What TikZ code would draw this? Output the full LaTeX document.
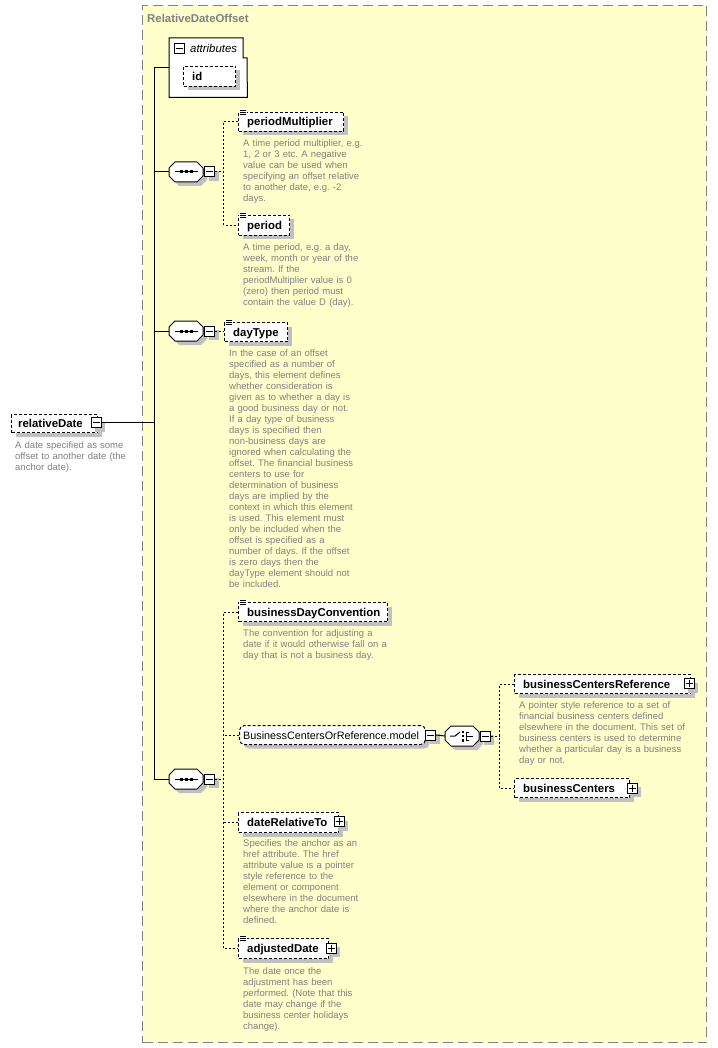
\documentclass[tikz,border=0pt]{standalone}
\usepackage{fontspec}
\setmainfont{Liberation Sans}
\usetikzlibrary{shadows,calc}
\frenchspacing
\definecolor{bg}{RGB}{255,255,204}
\definecolor{frame}{RGB}{128,128,128}
\definecolor{desc}{RGB}{128,128,128}
\definecolor{shad}{RGB}{192,192,192}
\newcommand{\octa}[3]{%
  \node[minimum width=34pt,minimum height=20pt,inner sep=0] (#1) at (#2,#3) {};
  \begin{scope}[shift={(#2,#3)}]
    \fill[shad,shift={(4,4)}] (-11,-10) -- (11,-10) -- (17,-4) -- (17,4) -- (11,10) -- (-11,10) -- (-17,4) -- (-17,-4) -- cycle;
    \draw[line width=1pt,fill=white] (-11,-10) -- (11,-10) -- (17,-4) -- (17,4) -- (11,10) -- (-11,10) -- (-17,4) -- (-17,-4) -- cycle;
  \end{scope}}
\newcommand{\seqicon}[1]{%
  \begin{scope}[shift={(#1.center)}]
    \draw[line width=1pt] (-11,0) -- (12,0);
    \fill (-6.5,-1.5) rectangle (-3.5,1.5);
    \fill (-1.5,-1.5) rectangle (1.5,1.5);
    \fill (3.5,-1.5) rectangle (6.5,1.5);
  \end{scope}}
\newcommand{\choiceicon}[1]{%
  \begin{scope}[shift={(#1.center)}]
    \draw[line width=1pt] (-12,0) -- (-7,0) -- (-2,-4);
    \fill (-0.5,-5.5) rectangle (2,-3);
    \fill (-0.5,-1.25) rectangle (2,1.25);
    \fill (-0.5,3) rectangle (2,5.5);
    \draw[line width=1pt] (7,-4) -- (4,-4) -- (4,4) -- (7,4);
    \draw[line width=1pt] (4,0) -- (11,0);
  \end{scope}}
\newcommand{\minusbox}[3]{%
  \node[pmbox] (#1) at (#2,#3) {};
  \draw[line width=1pt] ([xshift=-3.5pt]#1.center) -- ([xshift=3.5pt]#1.center);}
\newcommand{\plusbox}[3]{%
  \node[pmbox] (#1) at (#2,#3) {};
  \draw[line width=1pt] ([xshift=-3.5pt]#1.center) -- ([xshift=3.5pt]#1.center);
  \draw[line width=1pt] ([yshift=-3.5pt]#1.center) -- ([yshift=3.5pt]#1.center);}
\newcommand{\elicon}[1]{%
  \fill[white] ($(#1.north west)+(1,-2.5)$) rectangle ++(8,7);
  \draw[line width=0.8pt] ($(#1.north west)+(2,-1.5)$) -- ++(6,0);
  \draw[line width=0.8pt] ($(#1.north west)+(2,0.5)$) -- ++(6,0);
  \draw[line width=0.8pt] ($(#1.north west)+(2,2.5)$) -- ++(6,0);}
\begin{document}
\begin{tikzpicture}[x=1pt,y=-1pt,
  shd/.style={drop shadow={shadow xshift=4pt,shadow yshift=-4pt,fill=shad,opacity=1}},
  elem/.style={draw,dash pattern=on 3pt off 2pt,fill=white,line width=1pt,shd,minimum height=19pt,inner sep=0,anchor=north west},
  modelbox/.style={elem,rounded corners=5pt},
  pmbox/.style={draw,fill=white,line width=1pt,minimum size=10pt,inner sep=0,shd},
  ename/.style={font={\fontsize{11.4}{13}\selectfont\bfseries},anchor=base west,inner sep=0},
  edesc/.style={font={\fontsize{9.5}{11}\selectfont},text=desc,anchor=base west,inner sep=0,text width=260pt,align=left},
  conn/.style={line width=1pt},
  dconn/.style={line width=1pt,dash pattern=on 2pt off 2pt}]
\useasboundingbox (0,0) rectangle (717,1048);
\fill[white] (0,0) rectangle (717,1048);
% group frame
\node[draw=frame,fill=bg,line width=1pt,dash pattern=on 10pt off 5pt,minimum width=564pt,minimum height=1037pt,inner sep=0,anchor=north west] (grp) at (142,5) {};
\node[font={\fontsize{11.4}{13}\selectfont\bfseries},text=frame,anchor=base west,inner sep=0] (grpt) at (147,23) {RelativeDateOffset};
% attributes
\node[minimum width=78pt,minimum height=59pt,inner sep=0,anchor=north west] (attr) at (169,38) {};
\draw[line width=1pt,fill=white] (attr.north west) -- ++(74,0) -- ++(0,20) -- ++(4,0) -- (attr.south east) -- (attr.south west) -- cycle;
\node[draw,fill=white,line width=1pt,minimum size=10.5pt,inner sep=0] (attrm) at (179.5,48.5) {};
\draw[line width=1pt] ([xshift=-3.5pt]attrm.center) -- ([xshift=3.5pt]attrm.center);
\node[font={\fontsize{11.4}{13}\selectfont\itshape},anchor=base west,inner sep=0] (attrt) at (190,53) {attributes};
\node[elem,minimum width=52pt,minimum height=20pt] (id) at (183,66) {};
\node[ename] (idt) at ($(id.west)+(9,4)$) {id};
% relativeDate
\node[elem,minimum width=86pt,minimum height=18pt] (rd) at (11,414) {};
\node[ename] (rdt) at ($(rd.west)+(7,4)$) {relativeDate};
\minusbox{rdm}{96}{422.5}
\node[edesc] (rdd) at (15,448.4) {A date specified as some\\offset to another date (the\\anchor date).};
% trunk
\coordinate (t1) at (154,68);
\draw[conn] (t1) -- (t1 -| attr.west);
\draw[conn] (rdm.east) -- (rdm.east -| t1);
% sequence 1
\octa{s1}{186}{172}
\seqicon{s1}
\minusbox{s1m}{209.5}{172}
\draw[conn] (s1.west -| t1) -- (s1.west);
\node[elem,minimum width=105pt] (pm) at (238,112) {};
\elicon{pm}
\node[ename] (pmt) at ($(pm.west)+(9,4)$) {periodMultiplier};
\node[edesc] (pmd) at (243,146.4) {A time period multiplier, e.g.\\1, 2 or 3 etc. A negative\\value can be used when\\specifying an offset relative\\to another date, e.g. -2\\days.};
\node[elem,minimum width=51pt,minimum height=20pt] (per) at (238,215) {};
\elicon{per}
\node[ename] (pert) at ($(per.west)+(9,4)$) {period};
\node[edesc] (perd) at (243,250.4) {A time period, e.g. a day,\\week, month or year of the\\stream. If the\\periodMultiplier value is 0\\(zero) then period must\\contain the value D (day).};
\coordinate (b1) at ($(s1m.east)+(8.5,0)$);
\draw[dconn] (s1m.east) -- (b1);
\draw[dconn] (pm.west) -| (b1) |- (per.west);
% sequence 2
\octa{s2}{186}{331}
\seqicon{s2}
\minusbox{s2m}{209.5}{331}
\draw[conn] (s2.west -| t1) -- (s2.west);
\node[elem,minimum width=63pt] (dt) at (224,322) {};
\elicon{dt}
\node[ename] (dtt) at ($(dt.west)+(9,4)$) {dayType};
\node[edesc] (dtd) at (229,356.4) {In the case of an offset\\specified as a number of\\days, this element defines\\whether consideration is\\given as to whether a day is\\a good business day or not.\\If a day type of business\\days is specified then\\non-business days are\\ignored when calculating the\\offset. The financial business\\centers to use for\\determination of business\\days are implied by the\\context in which this element\\is used. This element must\\only be included when the\\offset is specified as a\\number of days. If the offset\\is zero days then the\\dayType element should not\\be included.};
\draw[dconn] (s2m.east) -- (s2m.east -| dt.west);
% sequence 3
\octa{s3}{186}{779}
\seqicon{s3}
\minusbox{s3m}{209.5}{779}
\draw[conn] (t1) |- (s3.west);
\node[elem,minimum width=149pt] (bdc) at (238,602) {};
\elicon{bdc}
\node[ename] (bdct) at ($(bdc.west)+(9,4)$) {businessDayConvention};
\node[edesc] (bdcd) at (243,636.4) {The convention for adjusting a\\date if it would otherwise fall on a\\day that is not a business day.};
\node[modelbox,minimum width=186pt] (model) at (239,725) {};
\node[font={\fontsize{10.8}{13}\selectfont},anchor=base west,inner sep=0] (modelt) at ($(model.west)+(4,4)$) {BusinessCentersOrReference.model};
\minusbox{mm}{430.5}{735}
\octa{ch}{462}{736}
\choiceicon{ch}
\minusbox{chm}{485}{736}
\draw[conn] (mm.east) -- (ch.west);
\node[elem,minimum width=176pt] (bcr) at (514,674) {};
\node[ename] (bcrt) at ($(bcr.west)+(9,4)$) {businessCentersReference};
\plusbox{bcrp}{689}{683.5}
\node[edesc] (bcrd) at (519,708.4) {A pointer style reference to a set of\\financial business centers defined\\elsewhere in the document. This set of\\business centers is used to determine\\whether a particular day is a business\\day or not.};
\node[elem,minimum width=115pt] (bc) at (514,778) {};
\node[ename] (bct) at ($(bc.west)+(9,4)$) {businessCenters};
\plusbox{bcp}{632}{788}
\coordinate (b5) at ($(chm.east)+(9,0)$);
\draw[dconn] (chm.east) -- (b5);
\draw[dconn] (bcr.west) -| (b5) |- (bc.west);
\node[elem,minimum width=100pt,minimum height=20pt] (drt) at (238,812) {};
\node[ename] (drtt) at ($(drt.west)+(9,4)$) {dateRelativeTo};
\plusbox{drtp}{339}{821.5}
\node[edesc] (drtd) at (243,846.4) {Specifies the anchor as an\\href attribute. The href\\attribute value is a pointer\\style reference to the\\element or component\\elsewhere in the document\\where the anchor date is\\defined.};
\node[elem,minimum width=90pt,minimum height=20pt] (adj) at (238,938) {};
\elicon{adj}
\node[ename] (adjt) at ($(adj.west)+(9,4)$) {adjustedDate};
\plusbox{adjp}{331}{948}
\node[edesc] (adjd) at (243,974.4) {The date once the\\adjustment has been\\performed. (Note that this\\date may change if the\\business center holidays\\change).};
\coordinate (b3) at ($(s3m.east)+(8.5,0)$);
\draw[dconn] (s3m.east) -- (b3);
\draw[dconn] (bdc.west) -| (b3) |- (adj.west);
\draw[dconn] (model.west) -- (model.west -| b3);
\draw[dconn] (drt.west) -- (drt.west -| b3);
\end{tikzpicture}
\end{document}
